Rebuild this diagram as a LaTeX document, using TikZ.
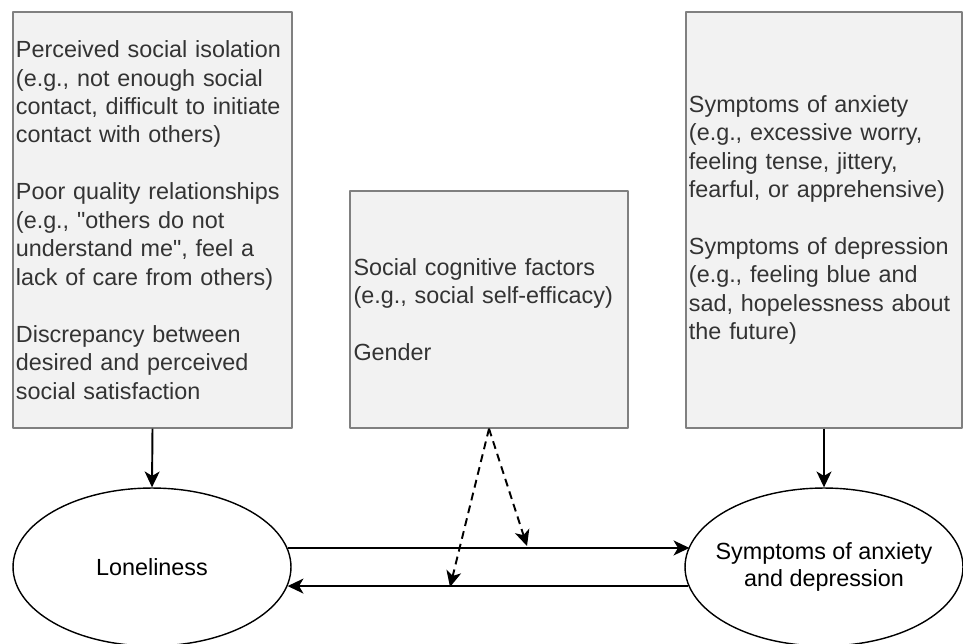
\documentclass[tikz,border=0pt]{standalone}
\usepackage{fontspec}
\setmainfont{Liberation Sans}[Ligatures=TeXOff]
\usetikzlibrary{arrows.meta,shapes.geometric}
\definecolor{boxfill}{HTML}{F2F2F2}
\definecolor{boxline}{HTML}{808080}
\definecolor{boxtext}{HTML}{333333}
\begin{document}
\begin{tikzpicture}[x=0.02cm, y=-0.02cm, >={Stealth[length=9pt,width=8.5pt,inset=2.5pt]}, line join=round,
	factorbox/.style={rectangle, draw=boxline, fill=boxfill, line width=0.8pt, text=boxtext, align=left,
		inner xsep=1.7pt, inner ysep=0pt, font=\fontsize{13.3}{16.2}\selectfont},
	latent/.style={ellipse, draw, line width=0.8pt, minimum width=158.2pt, minimum height=89.9pt, inner sep=0pt,
		font=\fontsize{13.3}{15.6}\selectfont},
	effect/.style={->, line width=1.1pt},
	moderation/.style={->, line width=1.1pt, dash pattern=on 4.5pt off 3pt}]
	\useasboundingbox (0,0) rectangle (963,643);
	% boxes
	\node[factorbox, minimum width=158.8pt, minimum height=236.7pt, text width=155.4pt] (isol) at (152.5,220)
	{Perceived social isolation\\(e.g., not enough social\\contact, difficult to initiate\\contact with others)\\[\baselineskip]
		Poor quality relationships\\(e.g., "others do not\\understand me", feel a\\lack of care from others)\\[\baselineskip]
		Discrepancy between\\desired and perceived\\social satisfaction};
	\node[factorbox, minimum width=158.2pt, minimum height=134.9pt, text width=154.2pt, inner xsep=2pt] (moder) at (489,309.5)
	{Social cognitive factors\\(e.g., social self-efficacy)\\[\baselineskip]Gender};
	\node[factorbox, minimum width=157.1pt, minimum height=236.7pt, text width=153.7pt] (sympt) at (824,220)
	{Symptoms of anxiety\\(e.g., excessive worry,\\feeling tense, jittery,\\fearful, or apprehensive)\\[\baselineskip]
		Symptoms of depression\\(e.g., feeling blue and\\sad, hopelessness about\\the future)};
	% ellipses
	\node[latent] (lone) at (152,567) {Loneliness};
	\node[latent, label={[name=anxtext, align=center, font=\fontsize{13.3}{15.6}\selectfont]center:Symptoms of anxiety\\and depression}] (anx) at (824,567) {};
	% paths
	\draw[effect] (isol.south) -- (lone.north);
	\draw[effect] (sympt.south) -- (anx.north);
	\draw[effect] (lone.8.5) -- (anx.171.5 |- lone.8.5);
	\draw[effect] (anx.188.8) -- (lone.-8.8 |- anx.188.8);
	\coordinate (upper) at (527,546);
	\coordinate (lower) at (450,587);
	\draw[moderation] (moder.south) -- (upper);
	\draw[moderation] (moder.south) -- (lower);
\end{tikzpicture}
\end{document}
